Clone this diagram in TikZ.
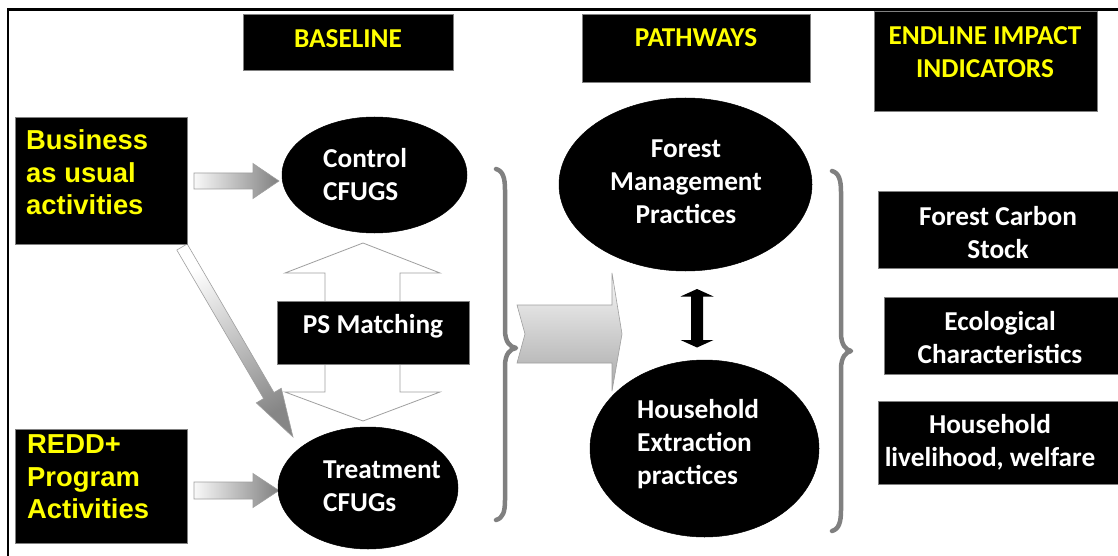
\documentclass[tikz,border=0pt]{standalone}
\usepackage{fontspec}
\setmainfont{Carlito}
\newfontfamily\arialf{Liberation Sans}
\usetikzlibrary{shapes.geometric,calc}
\definecolor{bgray}{HTML}{808080}
\definecolor{yel}{HTML}{FFFF00}
\newcommand{\blkarrow}[6]{%
  \coordinate (bh) at ($(#3)!#6!(#2)$);
  \shade[#1] ($(#2)!#4!90:(#3)$) -- ($(bh)!#4!-90:(#2)$) -- ($(bh)!#5!-90:(#2)$) -- (#3)
     -- ($(bh)!#5!90:(#2)$) -- ($(bh)!#4!90:(#2)$) -- ($(#2)!#4!-90:(#3)$) -- cycle;}
\begin{document}
\begin{tikzpicture}[x=1pt,y=-1pt,
  blk/.style={draw=bgray, line width=0.8pt, fill=black, inner sep=0pt, anchor=north west},
  ell/.style={ellipse, fill=black, draw=black, line width=0.5pt, inner sep=0pt},
  cal/.style={font=\fontsize{27.3}{33}\selectfont\bfseries, inner sep=0pt, text=white},
  ttl/.style={cal, text=yel, align=center, anchor=north},
  wtxt/.style={cal, align=center, anchor=north},
  ltxt/.style={cal, align=left, anchor=north west},
  atxt/.style={font=\arialf\fontsize{27.4}{32.5}\selectfont\bfseries, text=yel, align=left, anchor=north west, inner sep=0pt},
  bracestyle/.style={draw=bgray, line width=4.5pt, line cap=round, line join=round},
  smallarrow/.style={left color=gray!5, right color=bgray, draw=gray!75, line width=0.6pt},
  openarrow/.style={fill=white, draw=gray!75, line width=0.8pt}]
\useasboundingbox (0,0) rectangle (1118,556);
\fill[white] (0,0) rectangle (1118,556);
% frame lines
\draw[line width=2.5pt] (8,556) -- (8,9.5) -- (1118,9.5);

% braces
\draw[bracestyle] (496,169) .. controls (503,171) and (505,178) .. (505,190) -- (505,330)
   .. controls (505,342) and (510,347) .. (516,348) .. controls (510,349) and (505,354) .. (505,366)
   -- (505,500) .. controls (505,512) and (503,518) .. (496,520);
\draw[bracestyle] (832,171) .. controls (839,173) and (841,180) .. (841,192) -- (841,333)
   .. controls (841,345) and (846,350) .. (851,351) .. controls (846,352) and (841,357) .. (841,369)
   -- (841,510) .. controls (841,522) and (839,529) .. (832,531);

% block arrow coordinates
\coordinate (a1s) at (194,181);
\coordinate (a1e) at (279,181);
\coordinate (a2s) at (194,490.5);
\coordinate (a2e) at (279,490.5);
\coordinate (a3s) at (182,247);
\coordinate (a3e) at (293,437);

\blkarrow{smallarrow}{a1s}{a1e}{8pt}{17.5pt}{26pt}
\blkarrow{smallarrow}{a2s}{a2e}{8.5pt}{17pt}{26pt}
\blkarrow{top color=white, bottom color=gray!95, shading angle=30, draw=gray!75, line width=0.6pt}{a3s}{a3e}{6pt}{14.5pt}{48pt}

% PS matching open double arrow
\draw[openarrow] (363,243) -- (440,273) -- (400,273) -- (400,392) -- (440,392) -- (363,421)
   -- (285,392) -- (325,392) -- (325,273) -- (285,273) -- cycle;

% big pathway arrow
\shade[top color=gray!6, bottom color=gray!68, draw=gray!75, line width=0.6pt]
   (517,305) -- (612,305) -- (612,273) -- (622,334) -- (612,391) -- (612,363) -- (517,363) -- (525,334) -- cycle;

% black double arrow
\fill[black] (697,289) -- (713.5,296.5) -- (703,296.5) -- (703,340) -- (713.5,340) -- (697,347.5)
   -- (680.5,340) -- (691,340) -- (691,296.5) -- (680.5,296.5) -- cycle;

% ellipses
\node[ell, minimum width=185pt, minimum height=116pt] (ctrl) at (374.5,175) {};
\node[ell, minimum width=180pt, minimum height=122pt] (trt) at (368,488) {};
\node[ell, minimum width=253pt, minimum height=173pt] (fmp) at (685.5,184.5) {};
\node[ell, minimum width=229pt, minimum height=177pt] (hep) at (704.5,448.5) {};

% boxes
\node[blk, minimum width=210pt, minimum height=56pt] (baseline) at (243,14) {};
\node[blk, minimum width=228pt, minimum height=68pt] (pathways) at (582,14) {};
\node[blk, minimum width=223pt, minimum height=100pt] (endline) at (874,11) {};
\node[blk, minimum width=172pt, minimum height=127pt] (bau) at (15,117) {};
\node[blk, minimum width=172pt, minimum height=114pt] (redd) at (15,429) {};
\node[blk, minimum width=192pt, minimum height=63pt] (psm) at (277,301) {};
\node[blk, minimum width=250pt, minimum height=77pt] (fcs) at (878,191) {};
\node[blk, minimum width=244pt, minimum height=77pt] (eco) at (884,297) {};
\node[blk, minimum width=250pt, minimum height=83pt] (hlw) at (878,401) {};

% texts
\node[ttl] (tbaseline) at (348,24) {\strut BASELINE};
\node[ttl] (tpathways) at (696,23) {\strut PATHWAYS};
\node[ttl] (tendline) at (985,21) {\strut ENDLINE IMPACT\\INDICATORS};
\node[atxt] (tbau) at (26,127) {\strut Business\\as usual\\activities};
\node[atxt] (tredd) at (27,431) {\strut REDD+\\Program\\Activities};
\node[ltxt] (tctrl) at (323,144) {\strut Control\\CFUGS};
\node[ltxt] (ttrt) at (323,455) {\strut Treatment\\CFUGs};
\node[wtxt] (tpsm) at (373,310) {\strut PS Matching};
\node[wtxt] (tfmp) at (686,134) {\strut Forest\\Management\\Practices};
\node[ltxt] (thep) at (637,395) {\strut Household\\Extraction\\practices};
\node[wtxt] (tfcs) at (998,202) {\strut Forest Carbon\\Stock};
\node[wtxt] (teco) at (1000,307) {\strut Ecological\\Characteristics};
\node[wtxt] (thlw) at (990,410) {\strut Household\\livelihood, welfare};
\end{tikzpicture}
\end{document}
